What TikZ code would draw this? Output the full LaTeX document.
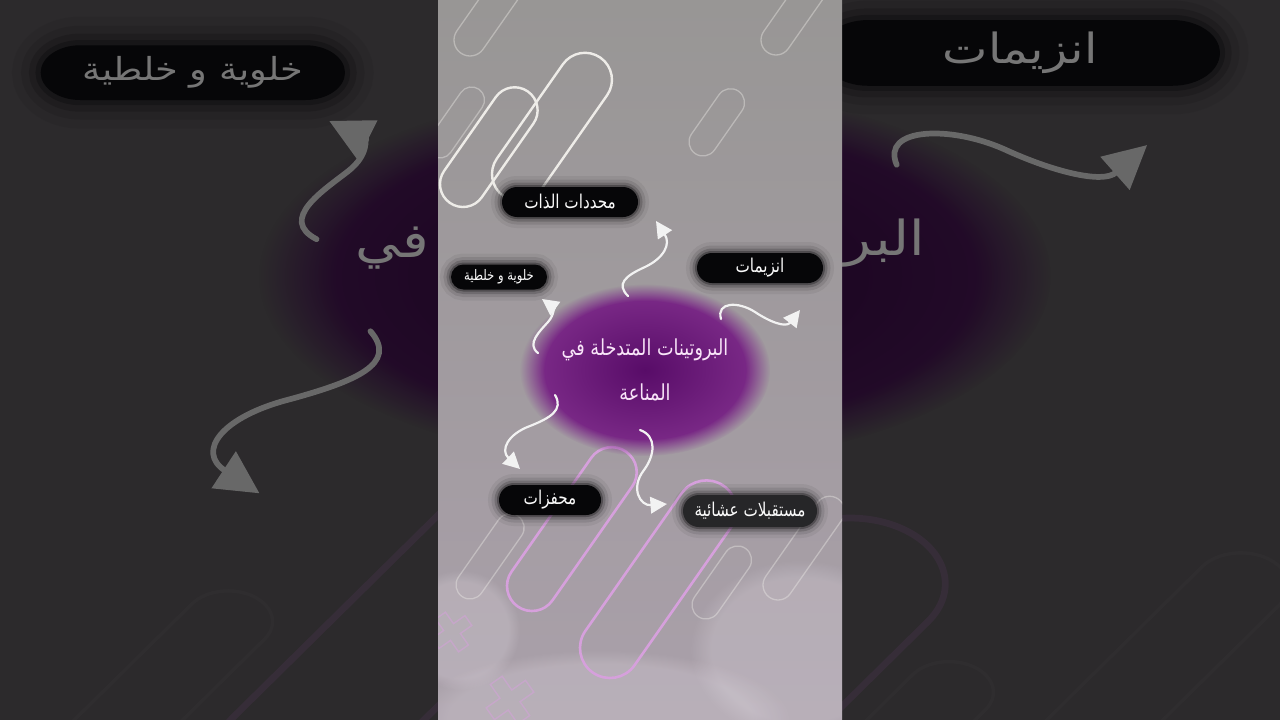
\documentclass[tikz,border=0pt]{standalone}
\usepackage{fontspec}
\usepackage{tikz}
\TeXXeTstate=1
\newfontfamily\arabicfont[Script=Arabic, FakeStretch=0.8]{DejaVu Sans}
\usetikzlibrary{arrows.meta, shapes.geometric, shapes.misc, fadings, positioning}

% colours of the sharp middle strip
\definecolor{paneltop}{RGB}{152,150,149}
\definecolor{panelmid}{RGB}{149,146,147}
\definecolor{panelbot}{RGB}{170,160,170}
\definecolor{decowhite}{RGB}{238,236,232}
\definecolor{decopink}{RGB}{214,160,220}
\definecolor{blobin}{RGB}{88,12,104}
\definecolor{blobout}{RGB}{128,46,140}
\definecolor{pillfill}{RGB}{6,6,8}
\definecolor{pillgrey}{RGB}{38,38,40}
\definecolor{pilltext}{RGB}{250,250,250}
\definecolor{coretext}{RGB}{248,228,248}
\definecolor{arrowcol}{RGB}{242,242,242}
\definecolor{cloudcol}{RGB}{236,230,238}
% colours of the blurred sides
\definecolor{sidepanel}{RGB}{44,42,44}
\definecolor{sidedeco}{RGB}{52,50,52}
\definecolor{sidepink}{RGB}{54,45,56}
\definecolor{sideblobin}{RGB}{24,2,30}
\definecolor{sideblobout}{RGB}{36,12,42}
\definecolor{sidetext}{RGB}{118,118,118}
\definecolor{sidearrow}{RGB}{104,104,104}

\def\sw{1}
\newif\ifsidecopy

\tikzset{
  pill_font/.style = {font=\arabicfont\fontsize{19}{21}\selectfont},
  small_font/.style = {font=\arabicfont\fontsize{14.5}{16}\selectfont},
  core_font/.style = {font=\arabicfont\fontsize{22}{45}\selectfont}
}
\tikzset{
  pill/.style = {pill_font, shape=rounded rectangle, fill=pillfill, text=pilltext,
    inner xsep=8, inner ysep=3, minimum height=30, transform shape,
    preaction={draw=pillfill, draw opacity=0.06, line width=\sw*22pt},
    preaction={draw=pillfill, draw opacity=0.1, line width=\sw*15pt},
    preaction={draw=pillfill, draw opacity=0.18, line width=\sw*9pt},
    preaction={draw=pillfill, draw opacity=0.3, line width=\sw*4pt}},
  grey_pill/.style = {pill, fill=pillgrey},
  core/.style = {core_font, ellipse, minimum width=250, minimum height=172,
    inner color=blobin, outer color=blobout,
    path fading=circle with fuzzy edge 20 percent,
    text=coretext, align=center, transform shape},
  piece/.style = {core_font, text=coretext, inner sep=0, transform shape},
  curly/.style = {draw=arrowcol, line width=\sw*2.2pt, line cap=round,
    -{Triangle[length=0pt 7.5, width=0pt 7.5]}},
  deco_white/.style = {draw=decowhite, line width=\sw*2.4pt},
  deco_faint/.style = {draw=decowhite, draw opacity=0.4, line width=\sw*1.3pt},
  deco_pink/.style = {draw=decopink, line width=\sw*2.6pt},
  deco_cross/.style = {draw=decopink, draw opacity=0.5, line width=\sw*1.4pt},
  cloud/.style = {fill=cloudcol, fill opacity=0.22,
    path fading=circle with fuzzy edge 20 percent}
}

% capsule outline: style, lower cap centre, angle, length, radius
\newcommand{\decopill}[5]{%
  \begin{scope}[shift={#2}, rotate=#3]
    \draw[#1] (0,-#5) -- (#4,-#5) arc[start angle=-90, end angle=90, radius=#5]
      -- (0,#5) arc[start angle=90, end angle=270, radius=#5] -- cycle;
  \end{scope}}
% plus outline: centre, size, angle
\newcommand{\decocross}[3]{%
  \begin{scope}[shift={#1}, rotate=#3, scale=#2]
    \draw[deco_cross] (-0.3,-1) -- (0.3,-1) -- (0.3,-0.3) -- (1,-0.3) -- (1,0.3)
      -- (0.3,0.3) -- (0.3,1) -- (-0.3,1) -- (-0.3,0.3) -- (-1,0.3) -- (-1,-0.3)
      -- (-0.3,-0.3) -- cycle;
  \end{scope}}

\newcommand{\immunescene}{%
  % strip background
  \shade[top color=paneltop, middle color=panelmid, bottom color=panelbot]
    (438,0) rectangle (842,720);
  \fill[cloud] (600,720) ellipse [x radius=190, y radius=70];
  \fill[cloud] (800,650) ellipse [x radius=110, y radius=90];
  \fill[cloud] (460,630) ellipse [x radius=60, y radius=60];

  % capsules
  \decopill{deco_faint}{(470,40)}{55}{100}{16}
  \decopill{deco_white}{(519,174)}{55}{115}{27}
  \decopill{deco_white}{(463,184)}{55}{90}{23}
  \decopill{deco_faint}{(440,145)}{55}{55}{13}
  \decopill{deco_faint}{(776,40)}{55}{100}{15}
  \decopill{deco_faint}{(703,142)}{55}{48}{14}
  \decopill{deco_faint}{(470,585)}{55}{70}{14}
  \decopill{deco_faint}{(706,605)}{55}{55}{14}
  \decopill{deco_faint}{(778,585)}{55}{90}{15}
  \decopill{deco_pink}{(532,586)}{55}{139}{25}
  \decopill{deco_pink}{(610,648)}{55}{168}{30}
  \decocross{(452,632)}{20}{35}
  \decocross{(510,700)}{24}{35}

  % concept
  \ifsidecopy
  \node[core] (core) at (645,370) {};
  % only these two ends of the first line show beside the strip
  \node[piece] (core_l) at (562,357) {\beginR في\endR};
  \node[piece] (core_r) at (713,355) {\beginR البرو\endR};
  \else
  \node[core] (core) at (645,370) {
    \beginR البروتينات المتدخلة في\endR \\ \beginR المناعة\endR};
  \fi

  % parts
  \node[pill, small_font, minimum width=112, minimum height=25] (n_cell) at (499,277) {
    \beginR خلوية و خلطية\endR};
  \node[pill, minimum width=142] (n_enz) at (760,268) {\beginR انزيمات\endR};
  \ifsidecopy\else
  \node[pill, minimum width=152] (n_self) at (570,202) {\beginR محددات الذات\endR};
  \node[pill, minimum width=118, minimum height=30] (n_stim) at (550,500) {\beginR محفزات\endR};
  \node[grey_pill, minimum width=150, minimum height=32] (n_recep) at (750,511) {
    \beginR مستقبلات عشائية\endR};
  \fi

  % curly arrows
  \coordinate (t_self) at (628,296);
  \coordinate (h_self) at (656,221);
  \draw[curly] (t_self) .. controls (616,284) and (625,276) .. (645,267)
    .. controls (664,258) and (671,244) .. (h_self);
  \coordinate (t_cell) at (538,353);
  \coordinate (h_cell) at (542,299);
  \draw[curly] (t_cell) .. controls (526,344) and (540,331) .. (548,322)
    .. controls (555,314) and (553,307) .. (h_cell);
  \coordinate (t_enz) at (721,319);
  \coordinate (h_enz) at (800,310);
  \draw[curly] (t_enz) .. controls (716,302) and (738,301) .. (755,312)
    .. controls (770,322) and (786,328) .. (h_enz);
  \coordinate (t_stim) at (555,395);
  \coordinate (h_stim) at (520,469);
  \draw[curly] (t_stim) .. controls (564,410) and (550,418) .. (530,426)
    .. controls (508,434) and (500,450) .. (h_stim);
  \coordinate (t_recep) at (640,430);
  \coordinate (h_recep) at (667,504);
  \draw[curly] (t_recep) .. controls (657,436) and (655,455) .. (644,470)
    .. controls (630,488) and (640,506) .. (h_recep);
}

\begin{document}
\begin{tikzpicture}[x=1pt, y=-1pt]
  \useasboundingbox (0,0) rectangle (1280,720);

  % blurred sides: the strip stretched and darkened
  \begin{scope}
    \clip (0,0) rectangle (1280,720);
    \begin{scope}[name prefix=bg_, shift={(-1389,-534)}, xscale=3.17, yscale=2.19]
      \def\sw{2.6}
      \sidecopytrue
      \colorlet{paneltop}{sidepanel}
      \colorlet{panelmid}{sidepanel}
      \colorlet{panelbot}{sidepanel}
      \colorlet{decowhite}{sidedeco}
      \colorlet{decopink}{sidepink}
      \colorlet{cloudcol}{sidepanel}
      \colorlet{blobin}{sideblobin}
      \colorlet{blobout}{sideblobout}
      \colorlet{pilltext}{sidetext}
      \colorlet{coretext}{sidetext}
      \colorlet{arrowcol}{sidearrow}
      \immunescene
    \end{scope}
  \end{scope}

  % sharp middle strip
  \begin{scope}
    \clip (438,0) rectangle (842,720);
    \immunescene
  \end{scope}
\end{tikzpicture}
\end{document}
